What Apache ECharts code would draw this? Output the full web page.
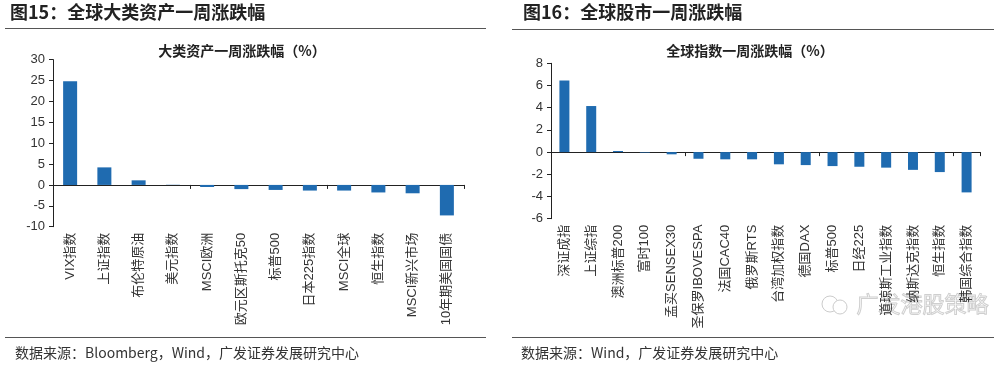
<!DOCTYPE html>
<html>
<head>
<meta charset="utf-8">
<script src="https://cdn.jsdelivr.net/npm/echarts@6/dist/echarts.min.js"></script>
<style>
html,body{margin:0;padding:0;background:#fff;}
#c{width:1000px;height:368px;}
</style>
</head>
<body>
<div id="c"></div>
<script>
// Left chart: 全球大类资产一周涨跌幅
var assetCategories = ['VIX指数','上证指数','布伦特原油','美元指数','MSCI欧洲','欧元区斯托克50','标普500','日本225指数','MSCI全球','恒生指数','MSCI新兴市场','10年期美国国债'];
var assetValues = [24.8, 4.2, 1.1, 0.05, -0.5, -1.0, -1.2, -1.35, -1.35, -1.8, -2.0, -7.3];
var assetTicks = {min: -10, max: 30, interval: 5};

// Right chart: 全球股市一周涨跌幅
var indexCategories = ['深证成指','上证综指','澳洲标普200','富时100','孟买SENSEX30','圣保罗IBOVESPA','法国CAC40','俄罗斯RTS','台湾加权指数','德国DAX','标普500','日经225','道琼斯工业指数','纳斯达克指数','恒生指数','韩国综合指数'];
var indexValues = [6.45, 4.15, 0.1, -0.05, -0.2, -0.6, -0.65, -0.65, -1.1, -1.17, -1.26, -1.32, -1.4, -1.6, -1.8, -3.63];
var indexTicks = {min: -6, max: 8, interval: 2};

var titles = ['图15：全球大类资产一周涨跌幅', '图16：全球股市一周涨跌幅'];
var subtitles = ['大类资产一周涨跌幅（%）', '全球指数一周涨跌幅（%）'];
var sources = ['数据来源：Bloomberg，Wind，广发证券发展研究中心', '数据来源：Wind，广发证券发展研究中心'];

var BAR = '#1F6BB0';
var AX = '#222';
var FONT = '"Liberation Sans", Arial, "Noto Sans CJK SC", sans-serif';
var CJK = '"Noto Sans CJK SC", sans-serif';

function xAxesFor(cats, gridIndex) {
  return [
    {
      type: 'category', gridIndex: gridIndex, data: cats, position: 'bottom',
      axisLine: {show: false, onZero: false}, axisTick: {show: false},
      axisLabel: {rotate: 90, interval: 0, margin: 6, fontSize: 13, color: '#333', fontFamily: FONT}
    },
    {
      type: 'category', gridIndex: gridIndex, data: cats, position: 'bottom',
      axisLine: {show: true, onZero: true, lineStyle: {color: AX, width: 1}},
      axisTick: {show: true, length: 4, lineStyle: {color: AX}},
      axisLabel: {show: false}
    }
  ];
}
function yAxisFor(t, gridIndex) {
  return {
    type: 'value', gridIndex: gridIndex, min: t.min, max: t.max, interval: t.interval,
    splitLine: {show: false},
    axisLine: {show: true, lineStyle: {color: AX}},
    axisTick: {show: true, length: 4, lineStyle: {color: AX}},
    axisLabel: {fontSize: 13, color: '#333', margin: 8, fontFamily: FONT}
  };
}

var chart = echarts.init(document.getElementById('c'), null, {renderer: 'canvas'});
var xs = xAxesFor(assetCategories, 0).concat(xAxesFor(indexCategories, 1));
var option = {
  animation: false,
  backgroundColor: '#fff',
  grid: [
    {left: 53, top: 59.6, width: 411, height: 167.1},
    {left: 551, top: 63.3, width: 429, height: 155.4}
  ],
  xAxis: xs,
  yAxis: [yAxisFor(assetTicks, 0), yAxisFor(indexTicks, 1)],
  series: [
    {type: 'bar', xAxisIndex: 0, yAxisIndex: 0, data: assetValues, barWidth: 14, itemStyle: {color: BAR}},
    {type: 'bar', xAxisIndex: 2, yAxisIndex: 1, data: indexValues, barWidth: 10, itemStyle: {color: BAR}}
  ],
  graphic: [
    {type: 'text', left: 10, top: 3, style: {text: titles[0], font: 'bold 18px ' + CJK, fill: '#222'}},
    {type: 'text', left: 523, top: 3, style: {text: titles[1], font: 'bold 18px ' + CJK, fill: '#222'}},
    {type: 'line', shape: {x1: 5, y1: 28.5, x2: 486, y2: 28.5}, style: {stroke: '#555', lineWidth: 1.2}},
    {type: 'line', shape: {x1: 512, y1: 29.5, x2: 994, y2: 29.5}, style: {stroke: '#555', lineWidth: 1.2}},
    {type: 'text', x: 242, y: 51, style: {text: subtitles[0], font: 'bold 14px ' + CJK, fill: '#222', align: 'center', verticalAlign: 'middle'}},
    {type: 'text', x: 750, y: 51, style: {text: subtitles[1], font: 'bold 14px ' + CJK, fill: '#222', align: 'center', verticalAlign: 'middle'}},
    {type: 'line', shape: {x1: 5, y1: 337.5, x2: 486, y2: 337.5}, style: {stroke: '#555', lineWidth: 1.2}},
    {type: 'line', shape: {x1: 512, y1: 337.5, x2: 994, y2: 337.5}, style: {stroke: '#555', lineWidth: 1.2}},
    {type: 'text', left: 15, top: 346, style: {text: sources[0], font: '14px ' + CJK, fill: '#333'}},
    {type: 'text', left: 521, top: 346, style: {text: sources[1], font: '14px ' + CJK, fill: '#333'}},
    {type: 'circle', shape: {cx: 830, cy: 304, r: 8}, style: {fill: 'none', stroke: '#ccc', lineWidth: 1}},
    {type: 'circle', shape: {cx: 840, cy: 307, r: 7}, style: {fill: '#fff', stroke: '#ccc', lineWidth: 1}},
    {type: 'text', left: 856, top: 292, style: {text: '广发港股策略', font: '22px ' + CJK, fill: 'rgba(255,255,255,0)', stroke: '#cfcfcf', lineWidth: 1}}
  ]
};
chart.setOption(option);
</script>
</body>
</html>
